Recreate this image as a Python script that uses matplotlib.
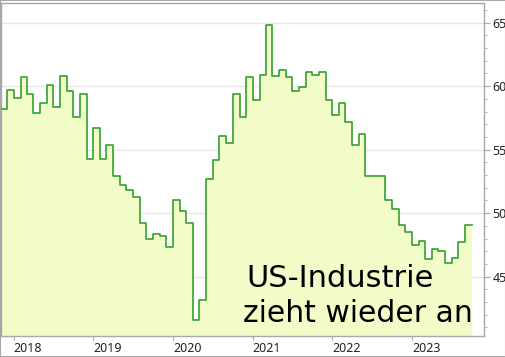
import matplotlib
matplotlib.use("Agg")
import matplotlib.pyplot as plt
from matplotlib.ticker import MultipleLocator
from matplotlib.patches import Rectangle
import pandas as pd
import datetime as dt

# ISM-Einkaufsmanagerindex, monatlich ab Nov 2017
pmi = [58.2, 59.7,
       59.1, 60.7, 59.4, 57.9, 58.7, 60.1, 58.4, 60.8, 59.6, 57.6, 59.4, 54.3,
       56.7, 54.3, 55.4, 52.9, 52.2, 51.8, 51.3, 49.2, 48.0, 48.4, 48.2, 47.3,
       51.0, 50.2, 49.2, 41.6, 43.2, 52.7, 54.2, 56.1, 55.5, 59.4, 57.6, 60.7,
       58.9, 60.9, 64.8, 60.8, 61.3, 60.7, 59.6, 59.9, 61.1, 60.9, 61.1, 58.9,
       57.7, 58.7, 57.2, 55.4, 56.2, 52.9, 52.9, 52.9, 51.0, 50.3, 49.1, 48.5,
       47.5, 47.8, 46.4, 47.2, 47.0, 46.1, 46.5, 47.7, 49.1]
start = "2017-11-01"
years = [2018, 2019, 2020, 2021, 2022, 2023]
yticks = [45, 50, 55, 60, 65]
title_lines = ["US-Industrie", "zieht wieder an"]

dates = pd.date_range(start, periods=len(pmi) + 1, freq="MS")
vals = pmi + [pmi[-1]]

W, H = 506, 357
fig = plt.figure(figsize=(W / 100, H / 100), dpi=100)
ax = fig.add_axes([1 / W, 21 / H, 483 / W, 333 / H])

line_c = "#35a02c"
fill_c = "#f1fcc9"
grey = "#a8a8a8"

ax.fill_between(dates, vals, 0, step="post", color=fill_c, lw=0, zorder=2)
ax.step(dates, vals, where="post", color=line_c, lw=1.2, zorder=3)

ax.set_ylim(40.33, 66.55)
ax.set_xlim(dt.datetime(2017, 11, 3), dt.datetime(2023, 11, 27))

ax.yaxis.tick_right()
ax.set_yticks(yticks)
ax.yaxis.set_minor_locator(MultipleLocator(1))
ax.tick_params(axis="y", which="major", length=4, color=grey, pad=2,
               labelsize=9, labelcolor="#222222")
ax.tick_params(axis="y", which="minor", length=2.5, color=grey)
ax.grid(axis="y", color="#e6e6e6", lw=1, zorder=0)
ax.set_axisbelow(True)

ax.set_xticks([dt.datetime(y, 1, 1) for y in years])
ax.set_xticklabels([str(y) for y in years])
ax.tick_params(axis="x", length=3, color=grey, pad=1.5, labelsize=9,
               labelcolor="#222222")
for lab in ax.get_xticklabels():
    lab.set_ha("left")

for sp in ax.spines.values():
    sp.set_color(grey)
    sp.set_linewidth(1)

for f in [ax.yaxis.get_ticklabels(), ax.get_xticklabels()]:
    for t in f:
        t.set_fontfamily("Noto Sans")

fig.text(246 / W, 70 / H, title_lines[0], fontsize=22, family="DejaVu Sans",
         va="baseline", ha="left", color="black")
fig.text(243 / W, 35 / H, title_lines[1], fontsize=21.5, family="DejaVu Sans",
         va="baseline", ha="left", color="black")

fig.patches.append(Rectangle((0, 0), 1, 1, transform=fig.transFigure,
                             fill=False, edgecolor=grey, lw=1.5))

fig.savefig("out.png", dpi=100)
